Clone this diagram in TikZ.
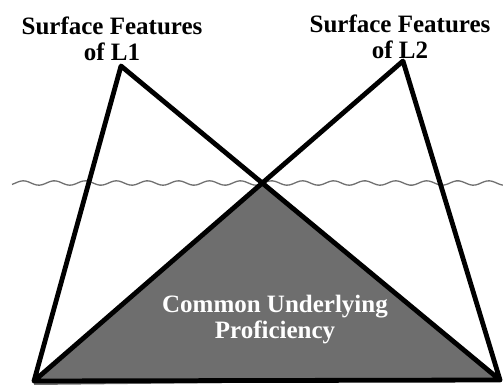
\documentclass[tikz,border=0pt]{standalone}
\usepackage{fontspec}
\setmainfont{Liberation Serif}
\definecolor{cupgray}{HTML}{6E6E6E}
\definecolor{wavegray}{HTML}{707070}
\tikzset{
  labeltext/.style={font=\bfseries\fontsize{25}{26}\selectfont,align=center,inner sep=0pt},
  bigline/.style={line width=4.8pt,line join=round,line cap=round}
}
\begin{document}
\begin{tikzpicture}[x=1pt,y=-1pt]
\useasboundingbox (0,0) rectangle (503,385);
\coordinate (A) at (121,66);
\coordinate (B) at (403,61);
\coordinate (L) at (34,381);
\coordinate (R) at (500,380);
\coordinate (X) at (263,181);
\fill[cupgray] (L) -- (X) -- (R) -- (L |- 0,385) -- cycle;
\draw[wavegray,line width=1.3pt] plot[smooth,samples=180,domain=12:503] (\x,{183+2.2*sin(\x*11.6)});
\draw[bigline] (L) -- (A) -- (R) -- (B) -- (L) -- (R);
\node[labeltext] (l1label) at (112,39) {Surface Features\\of L1};
\node[labeltext] (l2label) at (400,37) {Surface Features\\of L2};
\node[labeltext,white] (cup) at (275,320) {Common Underlying\\Proficiency};
\end{tikzpicture}
\end{document}
